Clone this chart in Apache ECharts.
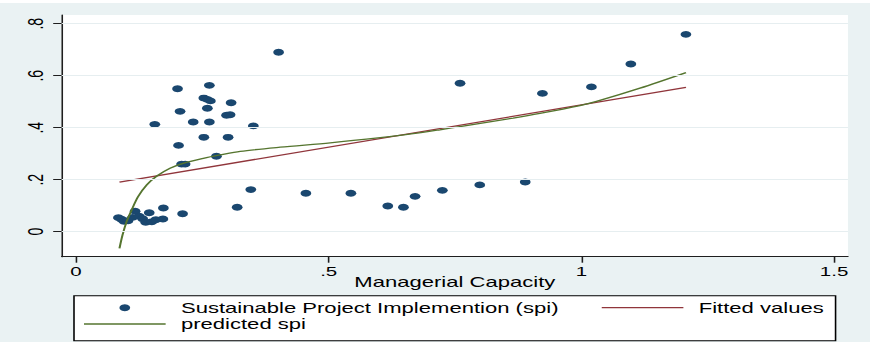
<!DOCTYPE html>
<html>
<head>
<meta charset="utf-8">
<script src="https://cdn.jsdelivr.net/npm/echarts@6/dist/echarts.min.js"></script>
<style>
html,body{margin:0;padding:0;background:#eaf2f3;overflow:hidden;width:870px;height:342px}
#chart{width:552px;height:342px;transform:scaleX(1.576087);transform-origin:0 0;}
</style>
</head>
<body>
<div id="chart"></div>
<script>
// ---- data ----
const xTicks = [0, 0.5, 1, 1.5];
const yTicks = [0, 0.2, 0.4, 0.6, 0.8];
const seriesNames = ['Sustainable Project Implemention (spi)', 'Fitted values', 'predicted spi'];
const xAxisName = 'Managerial Capacity';

// Sustainable Project Implemention (spi) vs Managerial Capacity
const spiX = [0.401, 0.201, 0.264, 0.253, 0.260, 0.266, 0.307, 0.206, 0.260, 0.298, 0.305,
  0.232, 0.264, 0.156, 0.351, 0.253, 0.301, 0.203, 0.278, 0.209, 0.216, 0.346, 0.319,
  0.455, 0.544, 0.617, 0.648, 0.671, 0.725, 0.799, 0.889, 0.760, 0.923, 1.020, 1.098, 1.207,
  0.084, 0.090, 0.095, 0.103, 0.112, 0.117, 0.125, 0.132, 0.138, 0.145, 0.150, 0.158, 0.172, 0.173, 0.211];
const spiY = [0.690, 0.550, 0.563, 0.514, 0.509, 0.503, 0.496, 0.463, 0.475, 0.448, 0.450,
  0.422, 0.422, 0.413, 0.407, 0.363, 0.363, 0.332, 0.290, 0.260, 0.260, 0.162, 0.094,
  0.148, 0.148, 0.099, 0.094, 0.136, 0.159, 0.180, 0.191, 0.571, 0.532, 0.557, 0.645, 0.759,
  0.054, 0.048, 0.040, 0.042, 0.055, 0.079, 0.060, 0.050, 0.036, 0.073, 0.038, 0.046, 0.049, 0.091, 0.069];

// Fitted values (linear fit)
const fitX = [0.086, 1.207];
const fitY = [0.191, 0.555];

// predicted spi
const predX = [0.086, 0.092, 0.100, 0.110, 0.123, 0.140, 0.160, 0.186, 0.212, 0.252, 0.285, 0.325,
  0.404, 0.503, 0.602, 0.667, 0.720, 0.766, 0.865, 0.918, 0.997, 1.030, 1.116, 1.207];
const predY = [-0.064, -0.013, 0.038, 0.083, 0.135, 0.180, 0.214, 0.244, 0.263, 0.282, 0.295, 0.309,
  0.325, 0.342, 0.362, 0.377, 0.392, 0.406, 0.437, 0.455, 0.485, 0.501, 0.552, 0.612];

// ---- chart ----
const FONT = "'Liberation Sans', Arial, sans-serif";
const zip = (xs, ys) => xs.map((x, i) => [x, ys[i]]);
const fmt = v => (v === 0 ? '0' : String(v).replace(/^0\./, '.'));

const chart = echarts.init(document.getElementById('chart'), null, { renderer: 'svg' });

const legendCommon = {
  orient: 'horizontal',
  padding: 0,
  selectedMode: false,
  textStyle: { fontSize: 14, color: '#000', fontFamily: FONT, padding: [0, 0, 0, 4.7] }
};

chart.setOption({
  animation: false,
  backgroundColor: '#eaf2f3',
  textStyle: { fontFamily: FONT },
  graphic: [
    { type: 'rect', shape: { x: 0, y: 0, width: 552, height: 3 }, style: { fill: '#ffffff' }, silent: true },
    { type: 'rect', shape: { x: 46.95, y: 295.7, width: 483.2, height: 45 },
      style: { fill: '#ffffff', stroke: '#000000', lineWidth: 1 }, silent: true, z: 0 }
  ],
  grid: {
    left: 39.15, right: 14, top: 15, bottom: 85.3,
    show: true, backgroundColor: '#ffffff', borderWidth: 0
  },
  xAxis: {
    type: 'value',
    min: -0.0283, max: 1.5275,
    name: xAxisName,
    nameLocation: 'middle',
    nameGap: 18,
    nameMoveOverlap: false,
    nameTextStyle: { fontSize: 14, color: '#000', fontFamily: FONT },
    axisLine: { show: true, onZero: false, lineStyle: { color: '#1e1e1e', width: 1 } },
    axisTick: { show: true, customValues: xTicks, length: 6, lineStyle: { color: '#1e1e1e' } },
    axisLabel: { customValues: xTicks, formatter: fmt, fontSize: 13, color: '#000', margin: 8, fontFamily: FONT },
    splitLine: { show: false }
  },
  yAxis: {
    type: 'value',
    min: -0.0962, max: 0.8335,
    axisLine: { show: true, onZero: false, lineStyle: { color: '#1e1e1e', width: 1 } },
    axisTick: { show: true, customValues: yTicks, length: 5.4, lineStyle: { color: '#1e1e1e' } },
    axisLabel: { customValues: yTicks, formatter: fmt, rotate: 90, fontSize: 14, color: '#000', margin: 10, fontFamily: FONT },
    splitLine: { show: false }
  },
  legend: [
    Object.assign({}, legendCommon, {
      data: [{ name: seriesNames[0], icon: 'circle' }],
      left: 75.8, top: 300.7, itemWidth: 6.8, itemHeight: 6.8,
      textStyle: Object.assign({}, legendCommon.textStyle, { padding: [0, 0, 0, 27.2] })
    }),
    Object.assign({}, legendCommon, {
      data: [{ name: seriesNames[1], icon: 'rect' }],
      left: 381.8, top: 300.7, itemWidth: 51.8, itemHeight: 1.3
    }),
    Object.assign({}, legendCommon, {
      data: [{ name: seriesNames[2], icon: 'rect' }],
      left: 53.3, top: 317, itemWidth: 51.8, itemHeight: 1.3
    })
  ],
  series: [
    {
      name: 'gridlines', type: 'line', data: [], z: 0, silent: true,
      markLine: {
        silent: true, symbol: 'none', label: { show: false },
        lineStyle: { color: '#e6eef0', width: 1, type: 'solid' },
        data: yTicks.map(v => ({ yAxis: v }))
      }
    },
    {
      name: seriesNames[0], type: 'scatter', z: 2,
      symbol: 'circle', symbolSize: 6.8,
      itemStyle: { color: '#1a476f', opacity: 1 },
      data: zip(spiX, spiY)
    },
    {
      name: seriesNames[1], type: 'line', z: 3,
      showSymbol: false, symbol: 'none',
      lineStyle: { color: '#90353b', width: 1.3 },
      itemStyle: { color: '#90353b' },
      data: zip(fitX, fitY)
    },
    {
      name: seriesNames[2], type: 'line', z: 4,
      showSymbol: false, symbol: 'none', smooth: 0.3,
      lineStyle: { color: '#55752f', width: 1.3 },
      itemStyle: { color: '#55752f' },
      data: zip(predX, predY)
    }
  ]
});
</script>
</body>
</html>
